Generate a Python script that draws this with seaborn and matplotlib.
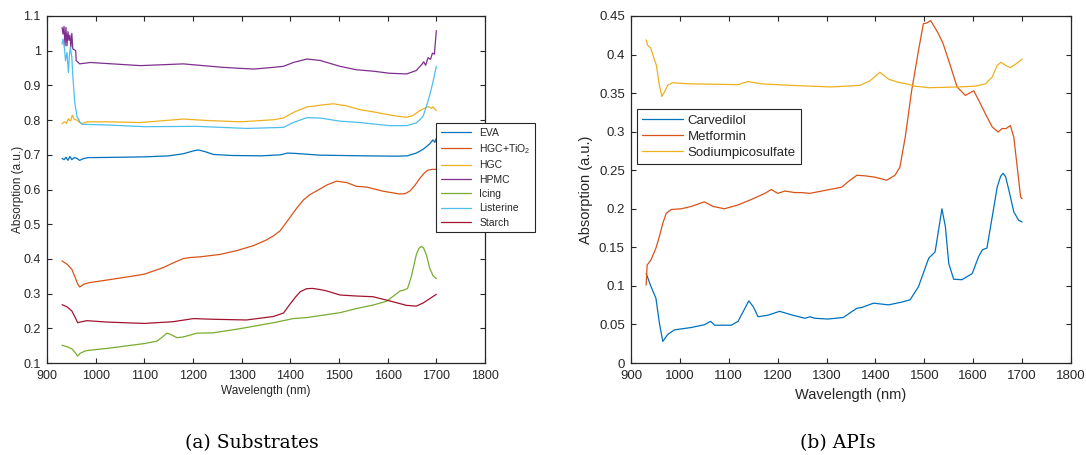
import matplotlib
matplotlib.use("Agg")
import matplotlib.pyplot as plt
from matplotlib.ticker import FixedLocator, FuncFormatter
import seaborn as sns
import pandas as pd

# ---------------- Substrates (panel a) ----------------
eva_wl = [931, 935, 939, 943, 947, 951, 956, 961, 967, 975, 985, 1000, 1050, 1100, 1150,
          1180, 1200, 1211, 1225, 1242, 1280, 1340, 1380, 1394, 1410, 1430, 1460, 1550,
          1620, 1640, 1659, 1673, 1686, 1693, 1697, 1700]
eva_val = [0.690, 0.686, 0.693, 0.684, 0.695, 0.686, 0.692, 0.690, 0.684, 0.689, 0.692,
           0.692, 0.693, 0.694, 0.697, 0.703, 0.711, 0.714, 0.709, 0.701, 0.698, 0.697,
           0.700, 0.705, 0.704, 0.702, 0.699, 0.697, 0.696, 0.697, 0.705, 0.716, 0.731,
           0.743, 0.736, 0.748]

tio2_wl = [931, 941, 951, 958, 963, 967, 971, 975, 989, 1023, 1060, 1100, 1139, 1160,
           1172, 1180, 1195, 1215, 1256, 1290, 1324, 1350, 1365, 1379, 1399, 1413, 1427,
           1440, 1454, 1475, 1495, 1516, 1536, 1557, 1591, 1625, 1636, 1646, 1656, 1666,
           1675, 1683, 1692, 1700]
tio2_val = [0.394, 0.385, 0.370, 0.346, 0.328, 0.319, 0.322, 0.327, 0.332, 0.339, 0.347,
            0.356, 0.375, 0.389, 0.396, 0.401, 0.404, 0.406, 0.413, 0.424, 0.438, 0.454,
            0.466, 0.481, 0.519, 0.546, 0.570, 0.585, 0.596, 0.613, 0.624, 0.620, 0.609,
            0.607, 0.595, 0.587, 0.588, 0.596, 0.612, 0.632, 0.647, 0.656, 0.658, 0.658]

hgc_wl = [931, 936, 940, 944, 948, 952, 956, 962, 967, 972, 982, 1023, 1092, 1180, 1228,
          1297, 1365, 1386, 1406, 1434, 1468, 1488, 1516, 1543, 1570, 1611, 1639, 1652,
          1666, 1683, 1690, 1693, 1700]
hgc_val = [0.790, 0.795, 0.791, 0.804, 0.797, 0.814, 0.802, 0.800, 0.793, 0.790, 0.795,
           0.795, 0.793, 0.803, 0.799, 0.795, 0.801, 0.806, 0.822, 0.838, 0.844, 0.847,
           0.841, 0.830, 0.824, 0.813, 0.808, 0.813, 0.827, 0.839, 0.834, 0.838, 0.827]

hpmc_wl = [931, 933, 935, 937, 939, 941, 943, 945, 947, 949, 951, 953, 956, 959, 960, 963,
           967, 972, 989, 1092, 1180, 1262, 1324, 1365, 1386, 1406, 1434, 1461, 1502, 1536,
           1570, 1604, 1639, 1659, 1671, 1674, 1678, 1683, 1688, 1692, 1696, 1700]
hpmc_val = [1.067, 1.048, 1.070, 1.014, 1.067, 1.014, 1.055, 1.030, 1.045, 1.010, 1.050,
            1.005, 1.003, 1.000, 0.971, 0.968, 0.962, 0.963, 0.966, 0.957, 0.962, 0.952,
            0.947, 0.952, 0.955, 0.966, 0.976, 0.972, 0.955, 0.945, 0.941, 0.935, 0.933,
            0.943, 0.962, 0.968, 0.958, 0.980, 0.975, 0.993, 0.990, 1.058]

icing_wl = [931, 941, 951, 958, 963, 968, 979, 989, 1023, 1100, 1126, 1139, 1146, 1153,
            1167, 1180, 1208, 1242, 1297, 1365, 1406, 1434, 1468, 1502, 1536, 1570, 1598,
            1611, 1625, 1635, 1641, 1649, 1659, 1664, 1669, 1674, 1680, 1686, 1693, 1700]
icing_val = [0.151, 0.147, 0.141, 0.130, 0.120, 0.128, 0.135, 0.137, 0.142, 0.156, 0.163,
             0.177, 0.186, 0.183, 0.173, 0.175, 0.186, 0.187, 0.199, 0.216, 0.228, 0.231,
             0.238, 0.245, 0.257, 0.267, 0.278, 0.292, 0.307, 0.311, 0.315, 0.351, 0.413,
             0.430, 0.436, 0.431, 0.410, 0.375, 0.352, 0.343]

listerine_wl = [931, 933, 936, 938, 941, 944, 946, 948, 951, 953, 957, 962, 965, 967, 972,
                1023, 1100, 1208, 1310, 1386, 1406, 1434, 1461, 1502, 1543, 1570, 1604,
                1639, 1659, 1669, 1673, 1680, 1686, 1693, 1700]
listerine_val = [1.019, 1.034, 1.005, 0.971, 0.995, 0.937, 0.987, 1.010, 0.981, 0.928,
                 0.851, 0.808, 0.803, 0.795, 0.788, 0.786, 0.781, 0.782, 0.776, 0.779,
                 0.793, 0.807, 0.806, 0.797, 0.793, 0.789, 0.784, 0.784, 0.792, 0.805,
                 0.812, 0.841, 0.870, 0.909, 0.955]

starch_wl = [931, 941, 951, 958, 963, 968, 982, 1023, 1100, 1159, 1201, 1242, 1310, 1365,
             1386, 1399, 1410, 1420, 1433, 1445, 1460, 1474, 1502, 1536, 1570, 1604, 1639,
             1659, 1673, 1686, 1700]
starch_val = [0.268, 0.262, 0.250, 0.231, 0.216, 0.218, 0.222, 0.218, 0.214, 0.219, 0.228,
              0.226, 0.224, 0.234, 0.244, 0.269, 0.289, 0.305, 0.314, 0.315, 0.312, 0.308,
              0.296, 0.293, 0.291, 0.279, 0.266, 0.264, 0.273, 0.285, 0.298]

substrate_names = ["EVA", "HGC+TiO$_2$", "HGC", "HPMC", "Icing", "Listerine", "Starch"]
substrate_series = [(eva_wl, eva_val), (tio2_wl, tio2_val), (hgc_wl, hgc_val),
                    (hpmc_wl, hpmc_val), (icing_wl, icing_val),
                    (listerine_wl, listerine_val), (starch_wl, starch_val)]

# ---------------- APIs (panel b) ----------------
carv_wl = [931, 941, 951, 958, 965, 975, 989, 1023, 1050, 1063, 1071, 1105, 1119, 1133,
           1141, 1150, 1160, 1180, 1204, 1228, 1256, 1266, 1276, 1303, 1334, 1362, 1372,
           1396, 1427, 1454, 1471, 1488, 1509, 1522, 1529, 1536, 1543, 1550, 1560, 1577,
           1598, 1611, 1619, 1628, 1639, 1649, 1656, 1661, 1666, 1673, 1683, 1693, 1700]
carv_val = [0.116, 0.099, 0.084, 0.052, 0.028, 0.037, 0.043, 0.046, 0.0496, 0.054, 0.049,
            0.049, 0.054, 0.071, 0.0806, 0.073, 0.060, 0.062, 0.067, 0.0625, 0.058, 0.060,
            0.058, 0.057, 0.059, 0.071, 0.072, 0.0776, 0.0754, 0.079, 0.082, 0.099, 0.136,
            0.144, 0.172, 0.200, 0.177, 0.129, 0.1086, 0.108, 0.116, 0.138, 0.147, 0.149,
            0.190, 0.228, 0.242, 0.246, 0.242, 0.224, 0.196, 0.185, 0.183]

metf_wl = [931, 933, 941, 951, 958, 965, 972, 982, 1003, 1023, 1050, 1068, 1091, 1119,
           1146, 1174, 1187, 1200, 1215, 1235, 1249, 1266, 1290, 1331, 1344, 1362, 1379,
           1399, 1423, 1440, 1450, 1461, 1474, 1488, 1498, 1505, 1513, 1528, 1538, 1553,
           1567, 1584, 1601, 1611, 1625, 1639, 1651, 1659, 1667, 1676, 1683, 1690, 1697,
           1700]
metf_val = [0.101, 0.127, 0.134, 0.149, 0.164, 0.181, 0.194, 0.199, 0.200, 0.203, 0.209,
            0.203, 0.200, 0.205, 0.212, 0.220, 0.225, 0.220, 0.223, 0.221, 0.221, 0.220,
            0.223, 0.228, 0.235, 0.2435, 0.2427, 0.241, 0.237, 0.2435, 0.254, 0.293,
            0.353, 0.405, 0.440, 0.441, 0.444, 0.428, 0.415, 0.386, 0.358, 0.347, 0.353,
            0.341, 0.323, 0.306, 0.2996, 0.304, 0.304, 0.308, 0.293, 0.254, 0.215, 0.213]

picos_wl = [931, 934, 940, 946, 952, 957, 963, 968, 975, 985, 1023, 1119, 1139, 1167,
            1228, 1310, 1368, 1389, 1409, 1427, 1447, 1464, 1481, 1509, 1570, 1604, 1625,
            1639, 1649, 1657, 1666, 1676, 1690, 1700]
picos_val = [0.419, 0.412, 0.409, 0.397, 0.386, 0.364, 0.3457, 0.351, 0.360, 0.3634,
             0.362, 0.361, 0.365, 0.362, 0.360, 0.358, 0.360, 0.366, 0.377, 0.368, 0.364,
             0.362, 0.359, 0.357, 0.358, 0.359, 0.362, 0.371, 0.386, 0.390, 0.386, 0.383,
             0.389, 0.394]

api_names = ["Carvedilol", "Metformin", "Sodiumpicosulfate"]
api_series = [(carv_wl, carv_val), (metf_wl, metf_val), (picos_wl, picos_val)]

x_ticks = [900, 1000, 1100, 1200, 1300, 1400, 1500, 1600, 1700, 1800]
left_y_ticks = [0.1, 0.2, 0.3, 0.4, 0.5, 0.6, 0.7, 0.8, 0.9, 1.0, 1.1]
right_y_ticks = [0, 0.05, 0.1, 0.15, 0.2, 0.25, 0.3, 0.35, 0.4, 0.45]

# MATLAB-like default line colours
substrate_colors = ["#0072BD", "#D95319", "#EDB120", "#7E2F8E", "#77AC30", "#4DBEEE", "#A2142F"]
api_colors = ["#0072BD", "#D95319", "#EDB120"]

sns.set_theme(style="ticks")
plt.rcParams["font.family"] = ["Liberation Sans", "DejaVu Sans"]
plt.rcParams["mathtext.fontset"] = "custom"
plt.rcParams["mathtext.rm"] = "Liberation Sans"
plt.rcParams["mathtext.it"] = "Liberation Sans:italic"

INK = "#262626"


def long_frame(names, series):
    parts = []
    for name, (wl, val) in zip(names, series):
        parts.append(pd.DataFrame({"wl": wl, "absorption": val, "sample": name}))
    return pd.concat(parts, ignore_index=True)


def style_axes(ax, yticks, ylim, tick_size):
    ax.set_xlim(900, 1800)
    ax.set_ylim(*ylim)
    ax.xaxis.set_major_locator(FixedLocator(x_ticks))
    ax.yaxis.set_major_locator(FixedLocator(yticks))
    fmt = FuncFormatter(lambda v, p: f"{round(v, 4):g}")
    ax.xaxis.set_major_formatter(fmt)
    ax.yaxis.set_major_formatter(fmt)
    ax.tick_params(axis="both", which="major", direction="in", length=3.8, width=0.8,
                   color=INK, labelcolor=INK, labelsize=tick_size,
                   top=True, right=True, pad=4.5)
    ax.tick_params(axis="x", pad=5)
    for sp in ax.spines.values():
        sp.set_visible(True)
        sp.set_color(INK)
        sp.set_linewidth(0.9)
    ax.grid(False)


fig = plt.figure(figsize=(10.86, 4.55), dpi=100)
W, H = 1086, 455
ax1 = fig.add_axes([47 / W, 1 - 363 / H, 438 / W, 347 / H])
ax2 = fig.add_axes([631 / W, 1 - 363 / H, 440 / W, 347 / H])

# panel a
df_sub = long_frame(substrate_names, substrate_series)
sns.lineplot(data=df_sub, x="wl", y="absorption", hue="sample", hue_order=substrate_names,
             palette=substrate_colors, estimator=None, sort=False, linewidth=0.9,
             legend=False, ax=ax1)
style_axes(ax1, left_y_ticks, (0.1, 1.1), 9)
ax1.set_xlabel("Wavelength (nm)", fontsize=8.5, color=INK)
ax1.set_ylabel("Absorption (a.u.)", fontsize=8.5, color=INK)
ax1.xaxis.set_label_coords(0.5, -0.062)
ax1.xaxis.label.set_va("top")
ax1.yaxis.set_label_coords(-0.052, 0.5)
leg1 = ax1.legend(handles=ax1.lines[:len(substrate_names)], labels=substrate_names,
                  loc="upper left", bbox_to_anchor=(436 / W, 1 - 123 / H),
                  bbox_transform=fig.transFigure, fontsize=7.5, frameon=True,
                  fancybox=False, framealpha=1, edgecolor=INK, handlelength=2.9,
                  handletextpad=0.8, labelspacing=0.42, borderpad=0.45,
                  borderaxespad=0)
leg1.get_frame().set_linewidth(0.8)
for t in leg1.get_texts():
    t.set_color(INK)

# panel b
df_api = long_frame(api_names, api_series)
sns.lineplot(data=df_api, x="wl", y="absorption", hue="sample", hue_order=api_names,
             palette=api_colors, estimator=None, sort=False, linewidth=0.9,
             legend=False, ax=ax2)
style_axes(ax2, right_y_ticks, (0, 0.45), 9.5)
ax2.set_xlabel("Wavelength (nm)", fontsize=10.5, color=INK)
ax2.set_ylabel("Absorption (a.u.)", fontsize=10.5, color=INK)
ax2.xaxis.set_label_coords(0.5, -0.072)
ax2.xaxis.label.set_va("top")
ax2.yaxis.set_label_coords(-0.086, 0.5)
leg2 = ax2.legend(handles=ax2.lines[:len(api_names)], labels=api_names,
                  loc="upper left", bbox_to_anchor=(637 / W, 1 - 109 / H),
                  bbox_transform=fig.transFigure, fontsize=9.5, frameon=True,
                  fancybox=False, framealpha=1, edgecolor=INK, handlelength=3.1,
                  handletextpad=0.35, labelspacing=0.3, borderpad=0.4,
                  borderaxespad=0)
leg2.get_frame().set_linewidth(0.8)
for t in leg2.get_texts():
    t.set_color(INK)

# sub-figure captions
fig.text(252 / W, 1 - 443 / H, "(a) Substrates", ha="center", va="center",
         family="DejaVu Serif", fontsize=13.5, color="black")
fig.text(838 / W, 1 - 443 / H, "(b) APIs", ha="center", va="center",
         family="DejaVu Serif", fontsize=13.5, color="black")

fig.savefig("out.png", dpi=100)
